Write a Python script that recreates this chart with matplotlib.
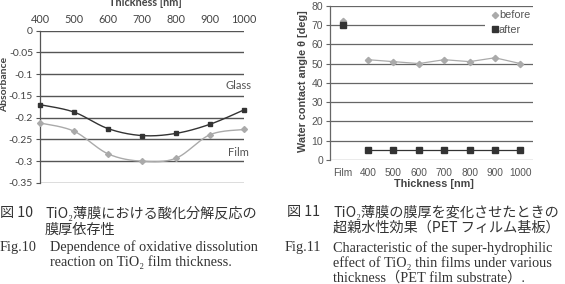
import numpy as np
import matplotlib
matplotlib.use("Agg")
import matplotlib.pyplot as plt
from matplotlib.lines import Line2D
from matplotlib.patches import Rectangle

# ---- data: left chart (absorbance vs thickness)
thickness = [400, 500, 600, 700, 800, 900, 1000]
glass = [-0.170, -0.187, -0.225, -0.241, -0.236, -0.215, -0.182]
film = [-0.212, -0.231, -0.283, -0.300, -0.293, -0.239, -0.227]
left_yticks = [0, -0.05, -0.1, -0.15, -0.2, -0.25, -0.3, -0.35]

# ---- data: right chart (water contact angle)
categories = ["Film", "400", "500", "600", "700", "800", "900", "1000"]
before = [72, 52, 51, 50, 52, 51, 53, 50]
after = [70, 5, 5, 5, 5, 5, 5, 5]
right_yticks = [0, 10, 20, 30, 40, 50, 60, 70, 80]

W, H = 565, 284
fig = plt.figure(figsize=(W / 100, H / 100), dpi=100)


def fx(px):
    return px / W


def fy(py):
    return 1 - py / H


def catmull(x, y, n=24):
    x = np.asarray(x, float)
    y = np.asarray(y, float)
    px = np.concatenate([[x[0]], x, [x[-1]]])
    py = np.concatenate([[y[0]], y, [y[-1]]])
    ox, oy = [], []
    for i in range(1, len(px) - 2):
        t = np.linspace(0, 1, n, endpoint=(i == len(px) - 3))
        t2, t3 = t * t, t * t * t
        for arr, out in ((px, ox), (py, oy)):
            p0, p1, p2, p3 = arr[i - 1], arr[i], arr[i + 1], arr[i + 2]
            out.extend(0.5 * ((2 * p1) + (-p0 + p2) * t
                              + (2 * p0 - 5 * p1 + 4 * p2 - p3) * t2
                              + (-p0 + 3 * p1 - 3 * p2 + p3) * t3))
    return np.array(ox), np.array(oy)


# ================= Left chart
axL = fig.add_axes([fx(40), fy(183), fx(244) - fx(40), fy(30.7) - fy(183)])
axL.set_xlim(400, 1000)
axL.set_ylim(-0.35, 0)
for v in left_yticks:
    axL.axhline(v, color="#555555", lw=1.0, zorder=1)
gx, gy = catmull(thickness, glass)
axL.plot(gx, gy, color="#333333", lw=1.0, zorder=3, clip_on=False)
axL.plot(thickness, glass, ls="none", marker="s", ms=3, color="#333333", zorder=4, clip_on=False)
fx_, fy_ = catmull(thickness, film)
axL.plot(fx_, fy_, color="#aaaaaa", lw=1.0, zorder=3, clip_on=False)
axL.plot(thickness, film, ls="none", marker="D", ms=3, color="#aaaaaa", zorder=4, clip_on=False)
axL.xaxis.tick_top()
axL.set_xticks(thickness)
axL.set_xticklabels([str(t) for t in thickness])
axL.set_yticks(left_yticks)
axL.set_yticklabels(["0", "-0.05", "-0.1", "-0.15", "-0.2", "-0.25", "-0.3", "-0.35"])
axL.tick_params(axis="x", length=0, pad=4, labelsize=7.8, labelcolor="#444444")
axL.tick_params(axis="y", length=3, width=0.8, color="#555555", pad=2,
                labelsize=7.5, labelcolor="#444444")
for lab in axL.get_xticklabels() + axL.get_yticklabels():
    lab.set_family("Lato")
for s in ["top", "right", "bottom"]:
    axL.spines[s].set_visible(False)
axL.spines["left"].set_color("#555555")
axL.spines["left"].set_linewidth(0.9)
axL.text(1022, -0.127, "Glass", ha="right", va="center", fontsize=8,
         color="#555555", family="Lato")
axL.text(1014, -0.281, "Film", ha="right", va="center", fontsize=8,
         color="#555555", family="Lato")
fig.text(fx(145), fy(2.5), "Thickness [nm]", ha="center", va="center",
         fontsize=7.8, fontweight="bold", color="#444444", family="Lato")
fig.text(fx(4.5), fy(84), "Absorbance", ha="center", va="center", rotation=90,
         fontsize=7.5, fontweight="bold", color="#444444", family="Lato")

# ================= Right chart
axR = fig.add_axes([fx(330), fy(160), fx(533) - fx(330), fy(5.7) - fy(160)])
xs = np.arange(len(categories))
axR.set_xlim(-0.5, len(categories) - 0.5)
axR.set_ylim(0, 80)
for v in right_yticks:
    axR.axhline(v, color="#666666", lw=0.9, zorder=1)
axR.add_patch(Rectangle((0.763, 0.78), 0.3, 0.195, transform=axR.transAxes,
                        facecolor="white", edgecolor="none", zorder=2,
                        clip_on=False))
axR.plot(xs[1:], before[1:], color="#aaaaaa", lw=0.9, marker="D", ms=3.2, zorder=3)
axR.plot(xs[1:], after[1:], color="#333333", lw=0.9, marker="s", ms=4.5, zorder=3)
axR.plot(xs[:1], before[:1], ls="none", color="#aaaaaa", marker="D", ms=3.2, zorder=3)
axR.plot(xs[:1], after[:1], ls="none", color="#333333", marker="s", ms=4.5, zorder=4)
axR.set_xticks(xs)
axR.set_xticklabels(categories)
axR.set_yticks(right_yticks)
axR.tick_params(axis="x", length=0, pad=6, labelsize=7.3, labelcolor="#555555")
axR.tick_params(axis="y", length=3, width=0.8, color="#666666", pad=2,
                labelsize=7.5, labelcolor="#555555")
for lab in axR.get_xticklabels() + axR.get_yticklabels():
    lab.set_family("Liberation Sans")
for s in ["top", "right", "bottom"]:
    axR.spines[s].set_visible(False)
axR.spines["left"].set_color("#666666")
axR.spines["left"].set_linewidth(0.9)
handles = [Line2D([], [], ls="none", marker="D", ms=3.2, color="#aaaaaa"),
           Line2D([], [], ls="none", marker="s", ms=4.5, color="#333333")]
leg = axR.legend(handles, ["before", "after"], loc="upper left",
                 bbox_to_anchor=(0.795, 0.97), frameon=False,
                 borderaxespad=0, borderpad=0,
                 handlelength=0.6, handletextpad=0.1,
                 labelspacing=0.45, prop={"family": "Liberation Sans", "size": 7.8})
leg.set_zorder(5)
for t in leg.get_texts():
    t.set_color("#555555")
fig.text(fx(434), fy(184), "Thickness [nm]", ha="center", va="center",
         fontsize=7.8, fontweight="bold", color="#444444", family="Liberation Sans")
fig.text(fx(303), fy(81), "Water contact angle θ [deg]", ha="center", va="center",
         rotation=90, fontsize=7.8, fontweight="bold", color="#444444",
         family="Liberation Sans")

# ================= Captions
cap_fam = ["Liberation Serif", "Noto Sans CJK JP", "DejaVu Serif"]
jp_fam = ["Noto Sans CJK JP", "Liberation Serif", "DejaVu Sans"]
cc = "#333333"
fs_jp = 10.2
fs_en = 10.3


def cap(xpx, ypx, s, fam, fs):
    fig.text(fx(xpx), fy(ypx), s, ha="left", va="center", fontsize=fs,
             color=cc, family=fam)


cap(0, 213, "図 10", jp_fam, fs_jp)
cap(45, 213, "TiO₂薄膜における酸化分解反応の", jp_fam, fs_jp)
cap(45, 230, "膜厚依存性", jp_fam, fs_jp)
cap(0, 247, "Fig.10", cap_fam, fs_en)
cap(50, 247, "Dependence of oxidative dissolution", cap_fam, fs_en)
cap(50, 262, "reaction on TiO₂ film thickness.", cap_fam, fs_en)

cap(287, 212, "図 11", jp_fam, fs_jp)
cap(333, 212, "TiO₂薄膜の膜厚を変化させたときの", jp_fam, fs_jp)
cap(333, 228, "超親水性効果（PET フィルム基板）", jp_fam, fs_jp)
cap(285, 248, "Fig.11", cap_fam, fs_en)
cap(333, 248, "Characteristic of the super-hydrophilic", cap_fam, fs_en)
cap(333, 263, "effect of TiO₂ thin films under various", cap_fam, fs_en)
cap(333, 278, "thickness（PET film substrate）.", cap_fam, fs_en)

fig.savefig("out.png", dpi=100)
